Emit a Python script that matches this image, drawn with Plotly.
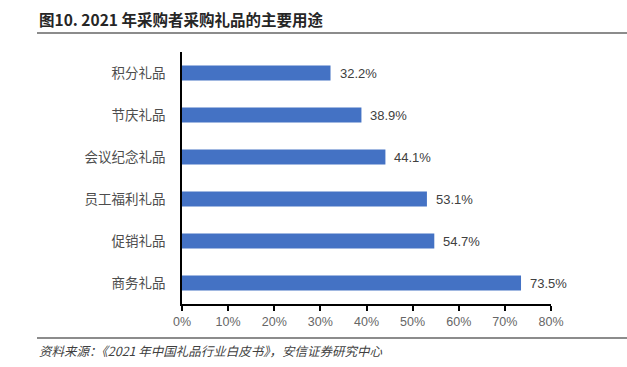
import plotly.graph_objects as go

categories = ["积分礼品", "节庆礼品", "会议纪念礼品", "员工福利礼品", "促销礼品", "商务礼品"]
values = [32.2, 38.9, 44.1, 53.1, 54.7, 73.5]
tick_vals = [0, 10, 20, 30, 40, 50, 60, 70, 80]
tick_text = [f"{v}%" for v in tick_vals]
title_text = "图10. 2021 年采购者采购礼品的主要用途"
source_text = "资料来源：《2021 年中国礼品行业白皮书》，安信证券研究中心"

W, H = 627, 367
L, R, T, B = 182, 76, 52, 63
pw, ph = W - L - R, H - T - B

def px_x(x):
    return (x - L) / pw

def px_y(y):
    return (H - B - y) / ph

fig = go.Figure(go.Bar(
    x=values, y=categories, orientation="h",
    marker=dict(color="#4472C4", line=dict(width=0)),
    width=0.36,
    hoverinfo="skip",
))

for c, v in zip(categories, values):
    fig.add_annotation(x=v, y=c, xref="x", yref="y", text=f"{v:.1f}%",
                       xanchor="left", yanchor="middle", xshift=7,
                       showarrow=False,
                       font=dict(size=13, color="#404040", family="Liberation Sans"))

fig.update_layout(
    width=W, height=H,
    margin=dict(l=L, r=R, t=T, b=B, pad=0),
    paper_bgcolor="white", plot_bgcolor="white",
    showlegend=False,
    font=dict(family="Noto Sans CJK SC", size=12, color="#595959"),
    xaxis=dict(range=[0, 80], tickvals=tick_vals, ticktext=tick_text,
               showgrid=False, zeroline=False, showline=True,
               linecolor="black", linewidth=1.5, ticks="outside",
               ticklen=5, tickcolor="black", tickwidth=1.5,
               tickfont=dict(size=12.5, color="#666666", family="Liberation Sans"),
               fixedrange=True),
    yaxis=dict(autorange="reversed", showgrid=False, zeroline=False,
               showline=True, linecolor="black", linewidth=1.5,
               ticks="", ticklabelstandoff=12,
               tickfont=dict(size=13.5, color="#4d4d4d"), fixedrange=True),
    bargap=0.64,
)

fig.add_shape(type="line", xref="paper", yref="paper",
              x0=px_x(37), x1=px_x(627), y0=px_y(33), y1=px_y(33),
              line=dict(color="#8c8c8c", width=2))
fig.add_shape(type="line", xref="paper", yref="paper",
              x0=px_x(37), x1=px_x(627), y0=px_y(338), y1=px_y(338),
              line=dict(color="#8c8c8c", width=2))

fig.add_annotation(text=f"<b>{title_text}</b>", xref="paper", yref="paper",
                   x=px_x(37), y=px_y(19), xanchor="left", yanchor="middle",
                   showarrow=False, font=dict(size=15.5, color="#262626"))
fig.add_annotation(text=f"<i>{source_text}</i>", xref="paper", yref="paper",
                   x=px_x(37), y=px_y(350), xanchor="left", yanchor="middle",
                   showarrow=False, font=dict(size=12.5, color="#404040"))

fig.write_html("out.html", config={"displayModeBar": False},
               post_script="document.body.style.margin='0';document.body.style.overflow='hidden';")
